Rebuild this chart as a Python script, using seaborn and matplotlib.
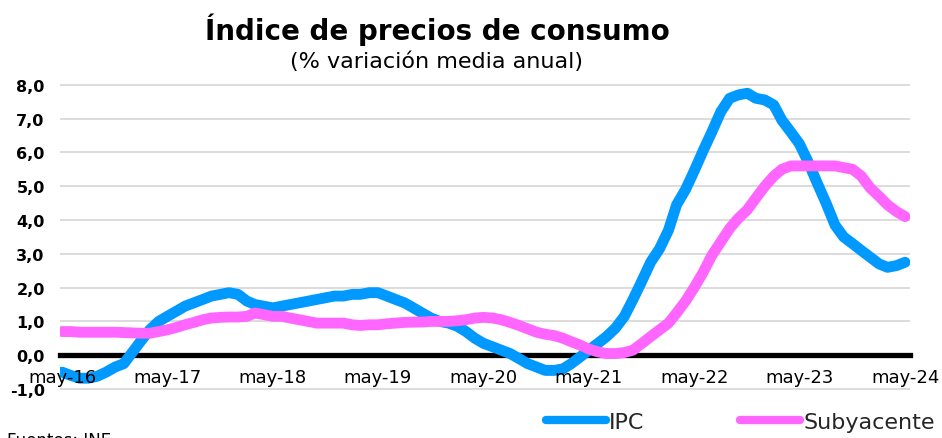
import pandas as pd
import numpy as np
import matplotlib
matplotlib.use('Agg')
from matplotlib import pyplot as plt
import seaborn as sns

# monthly data, may-2016 .. may-2024 (% variacion media anual)
fechas = pd.date_range('2016-05-01', '2024-05-01', freq='MS')

ipc = [-0.5, -0.6, -0.68, -0.68, -0.62, -0.5, -0.35, -0.25, 0.1, 0.45, 0.75, 1.0,
       1.15, 1.3, 1.45, 1.55, 1.65, 1.75, 1.8, 1.85, 1.8, 1.6, 1.5, 1.45,
       1.4, 1.45, 1.5, 1.55, 1.6, 1.65, 1.7, 1.75, 1.75, 1.8, 1.8, 1.85,
       1.85, 1.75, 1.65, 1.55, 1.4, 1.25, 1.1, 1.0, 0.95, 0.85, 0.7, 0.5,
       0.35, 0.25, 0.15, 0.05, -0.1, -0.25, -0.35, -0.45, -0.45, -0.4, -0.25, -0.05,
       0.15, 0.35, 0.55, 0.8, 1.15, 1.65, 2.2, 2.75, 3.15, 3.7, 4.45, 4.9,
       5.45, 6.05, 6.6, 7.2, 7.6, 7.7, 7.75, 7.6, 7.55, 7.4, 6.95, 6.6,
       6.25, 5.7, 5.1, 4.5, 3.85, 3.5, 3.3, 3.1, 2.9, 2.7, 2.6, 2.65,
       2.75]

subyacente = [0.7, 0.7, 0.68, 0.68, 0.68, 0.68, 0.68, 0.67, 0.66, 0.65, 0.65, 0.7,
              0.75, 0.82, 0.9, 0.97, 1.05, 1.1, 1.12, 1.13, 1.13, 1.15, 1.25, 1.2,
              1.15, 1.15, 1.1, 1.05, 1.0, 0.95, 0.95, 0.95, 0.95, 0.9, 0.88, 0.9,
              0.9, 0.93, 0.95, 0.97, 0.98, 0.98, 1.0, 1.0, 1.0, 1.02, 1.05, 1.1,
              1.12, 1.1, 1.05, 0.97, 0.88, 0.78, 0.68, 0.62, 0.58, 0.5, 0.4, 0.3,
              0.18, 0.1, 0.05, 0.05, 0.08, 0.15, 0.35, 0.55, 0.75, 0.95, 1.25, 1.6,
              2.0, 2.45, 2.95, 3.35, 3.75, 4.05, 4.3, 4.65, 5.0, 5.3, 5.5, 5.6,
              5.6, 5.6, 5.6, 5.6, 5.6, 5.55, 5.5, 5.3, 4.95, 4.7, 4.45, 4.25,
              4.1]

series = ['IPC', 'Subyacente']
colores = ['#0099FF', '#FF66FF']

y_ticks = [-1, 0, 1, 2, 3, 4, 5, 6, 7, 8]
y_labels = ['-1,0', '0,0', '1,0', '2,0', '3,0', '4,0', '5,0', '6,0', '7,0', '8,0']
x_ticks = pd.date_range('2016-05-01', '2024-05-01', freq='12MS')
x_labels = ['may-16', 'may-17', 'may-18', 'may-19', 'may-20', 'may-21', 'may-22', 'may-23', 'may-24']

df = pd.DataFrame({'fecha': list(fechas) * 2,
                   'valor': ipc + subyacente,
                   'serie': ['IPC'] * len(ipc) + ['Subyacente'] * len(subyacente)})

sns.set_theme(style='white')
plt.rcParams['font.family'] = ['DejaVu Sans']

fig = plt.figure(figsize=(9.42, 4.39), dpi=100)
ax = fig.add_axes([60 / 942, 1 - 390.7 / 439, 850 / 942, 305.6 / 439])

sns.lineplot(data=df, x='fecha', y='valor', hue='serie', hue_order=series,
             palette=colores, linewidth=7.8, ax=ax, zorder=3)
for l in ax.get_lines():
    l.set_solid_capstyle('round')
    l.set_solid_joinstyle('round')

ax.set_ylim(-1.02, 8.02)
ax.set_xlim(pd.Timestamp('2016-04-24'), pd.Timestamp('2024-05-18'))
ax.set_yticks(y_ticks, y_labels)
ax.set_xticks(x_ticks, x_labels)
ax.tick_params(axis='y', length=0, pad=11, colors='black', labelsize=11.5)
ax.tick_params(axis='x', length=0, pad=9, colors='black', labelsize=13)
for t in ax.get_xticklabels() + ax.get_yticklabels():
    t.set_fontweight('bold')
ax.set_xlabel('')
ax.set_ylabel('')
# date labels sit on top of the lines, like in excel
ax.xaxis.set_zorder(5)

ax.yaxis.grid(True, color='#D9D9D9', linewidth=1.3)
ax.xaxis.grid(False)
for s in ['top', 'right', 'left']:
    ax.spines[s].set_visible(False)
ax.spines['bottom'].set_position(('data', 0))
ax.spines['bottom'].set_color('black')
ax.spines['bottom'].set_linewidth(3.8)
ax.spines['bottom'].set_zorder(2.6)

ax.get_legend().remove()
handles, labels = ax.get_legend_handles_labels()
leg = fig.legend(handles, labels, loc='center left', bbox_to_anchor=(546 / 942, 1 - 423 / 439),
                 ncol=2, frameon=False, fontsize=16, handlelength=2.7, handletextpad=0.15,
                 columnspacing=4.3, borderpad=0, borderaxespad=0)
for h in leg.get_lines():
    h.set_solid_capstyle('round')
    h.set_linewidth(6)

fig.text(437 / 942, 1 - 40 / 439, 'Índice de precios de consumo', ha='center', va='baseline',
         fontsize=20, fontweight='bold', color='black')
fig.text(437 / 942, 1 - 68 / 439, '(% variación media anual)', ha='center', va='baseline',
         fontsize=16, color='black')
fig.text(7 / 942, 1 - 432 / 439, 'Fuentes: INE', ha='left', va='top', fontsize=12, color='black')

fig.savefig('out.png', dpi=100)
